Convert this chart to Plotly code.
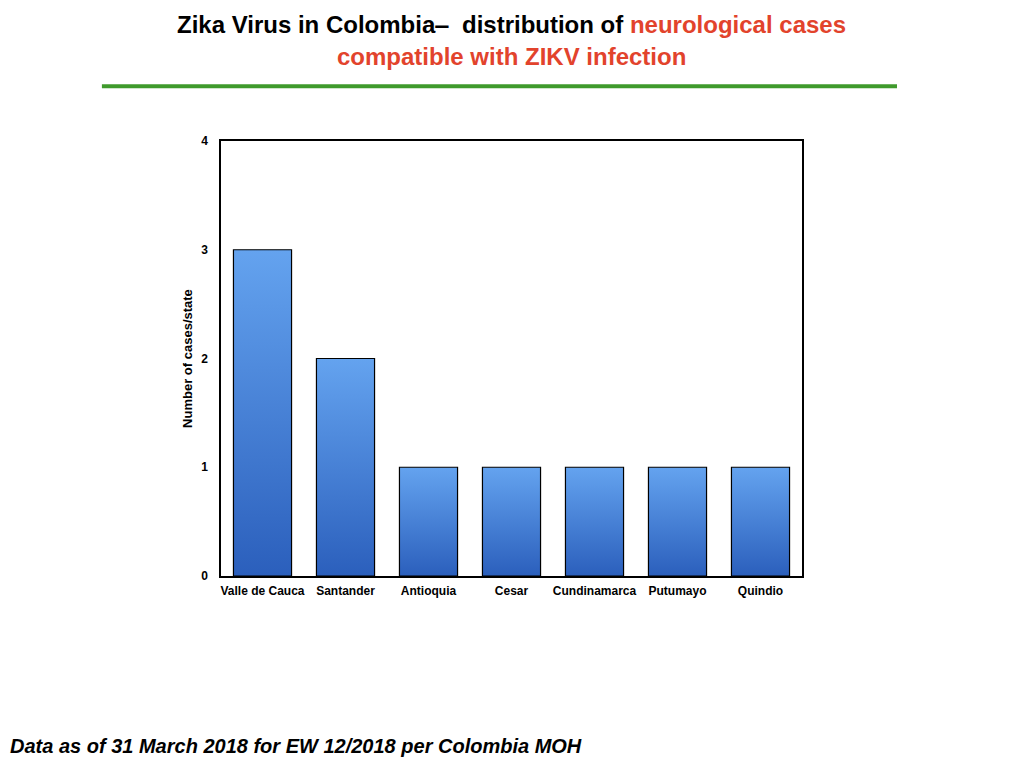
import plotly.graph_objects as go

# Neurological cases compatible with ZIKV infection, by state
states = ['Valle de Cauca', 'Santander', 'Antioquia', 'Cesar',
          'Cundinamarca', 'Putumayo', 'Quindio']
cases = [3, 2, 1, 1, 1, 1, 1]
y_ticks = [0, 1, 2, 3, 4]

BAR_WIDTH = 0.7
FONT = 'Liberation Sans, Arial, sans-serif'

fig = go.Figure()

# Each bar is a filled box so it can carry a vertical gradient (dark bottom, light top)
for i, (state, value) in enumerate(zip(states, cases)):
    left, right = i - BAR_WIDTH / 2, i + BAR_WIDTH / 2
    fig.add_trace(go.Scatter(
        x=[left, left, right, right, left],
        y=[0, value, value, 0, 0],
        mode='lines',
        fill='toself',
        fillgradient=dict(type='vertical',
                          colorscale=[[0, '#2b5fbc'], [1, '#64a3ef']]),
        line=dict(color='#000000', width=1.2),
        name=state,
        hoverinfo='skip',
        showlegend=False,
    ))

fig.update_layout(
    width=1024, height=768,
    paper_bgcolor='white', plot_bgcolor='white',
    margin=dict(l=213, r=230, t=133, b=200),
    font=dict(family=FONT, color='#000000'),
    showlegend=False,
    xaxis=dict(
        range=[-0.5, len(states) - 0.5],
        tickvals=list(range(len(states))),
        ticktext=['<b>%s</b>' % s for s in states],
        tickfont=dict(size=12),
        showgrid=False, zeroline=False,
        showline=True, linecolor='#000000', linewidth=1.5, mirror=True,
        ticks='', ticklabelstandoff=3,
    ),
    yaxis=dict(
        range=[0, 4],
        tickvals=y_ticks,
        ticktext=['<b>%d</b>' % t for t in y_ticks],
        tickfont=dict(size=12),
        showgrid=False, zeroline=False,
        showline=True, linecolor='#000000', linewidth=1.5, mirror=True,
        ticks='', ticklabelstandoff=9,
        title=dict(text='<b>Number of cases/state</b>', font=dict(size=13), standoff=6),
    ),
)

# Slide-style title in two colours
fig.add_annotation(
    xref='paper', yref='paper', x=0.5, y=1.0, yshift=117,
    xanchor='center', yanchor='middle', showarrow=False,
    text=('<b>Zika Virus in Colombia‒  distribution of '
          '<span style="color:#e2432c">neurological cases</span></b>'),
    font=dict(family=FONT, size=24, color='#000000'),
)
fig.add_annotation(
    xref='paper', yref='paper', x=0.5, y=1.0, yshift=85,
    xanchor='center', yanchor='middle', showarrow=False,
    text='<b>compatible with ZIKV infection</b>',
    font=dict(family=FONT, size=24, color='#e2432c'),
)

# Green rule under the title
fig.add_shape(type='line', xref='paper', yref='paper',
              x0=-0.205, x1=1.1635, y0=1.126, y1=1.126,
              line=dict(color='#3f9a2c', width=4))

# Footer note
fig.add_annotation(
    xref='paper', yref='paper', x=-0.366, y=-0.391,
    xanchor='left', yanchor='middle', showarrow=False,
    text='<b><i>Data as of 31 March 2018 for EW 12/2018 per Colombia MOH</i></b>',
    font=dict(family=FONT, size=20, color='#000000'),
)

fig.write_html("out.html")
